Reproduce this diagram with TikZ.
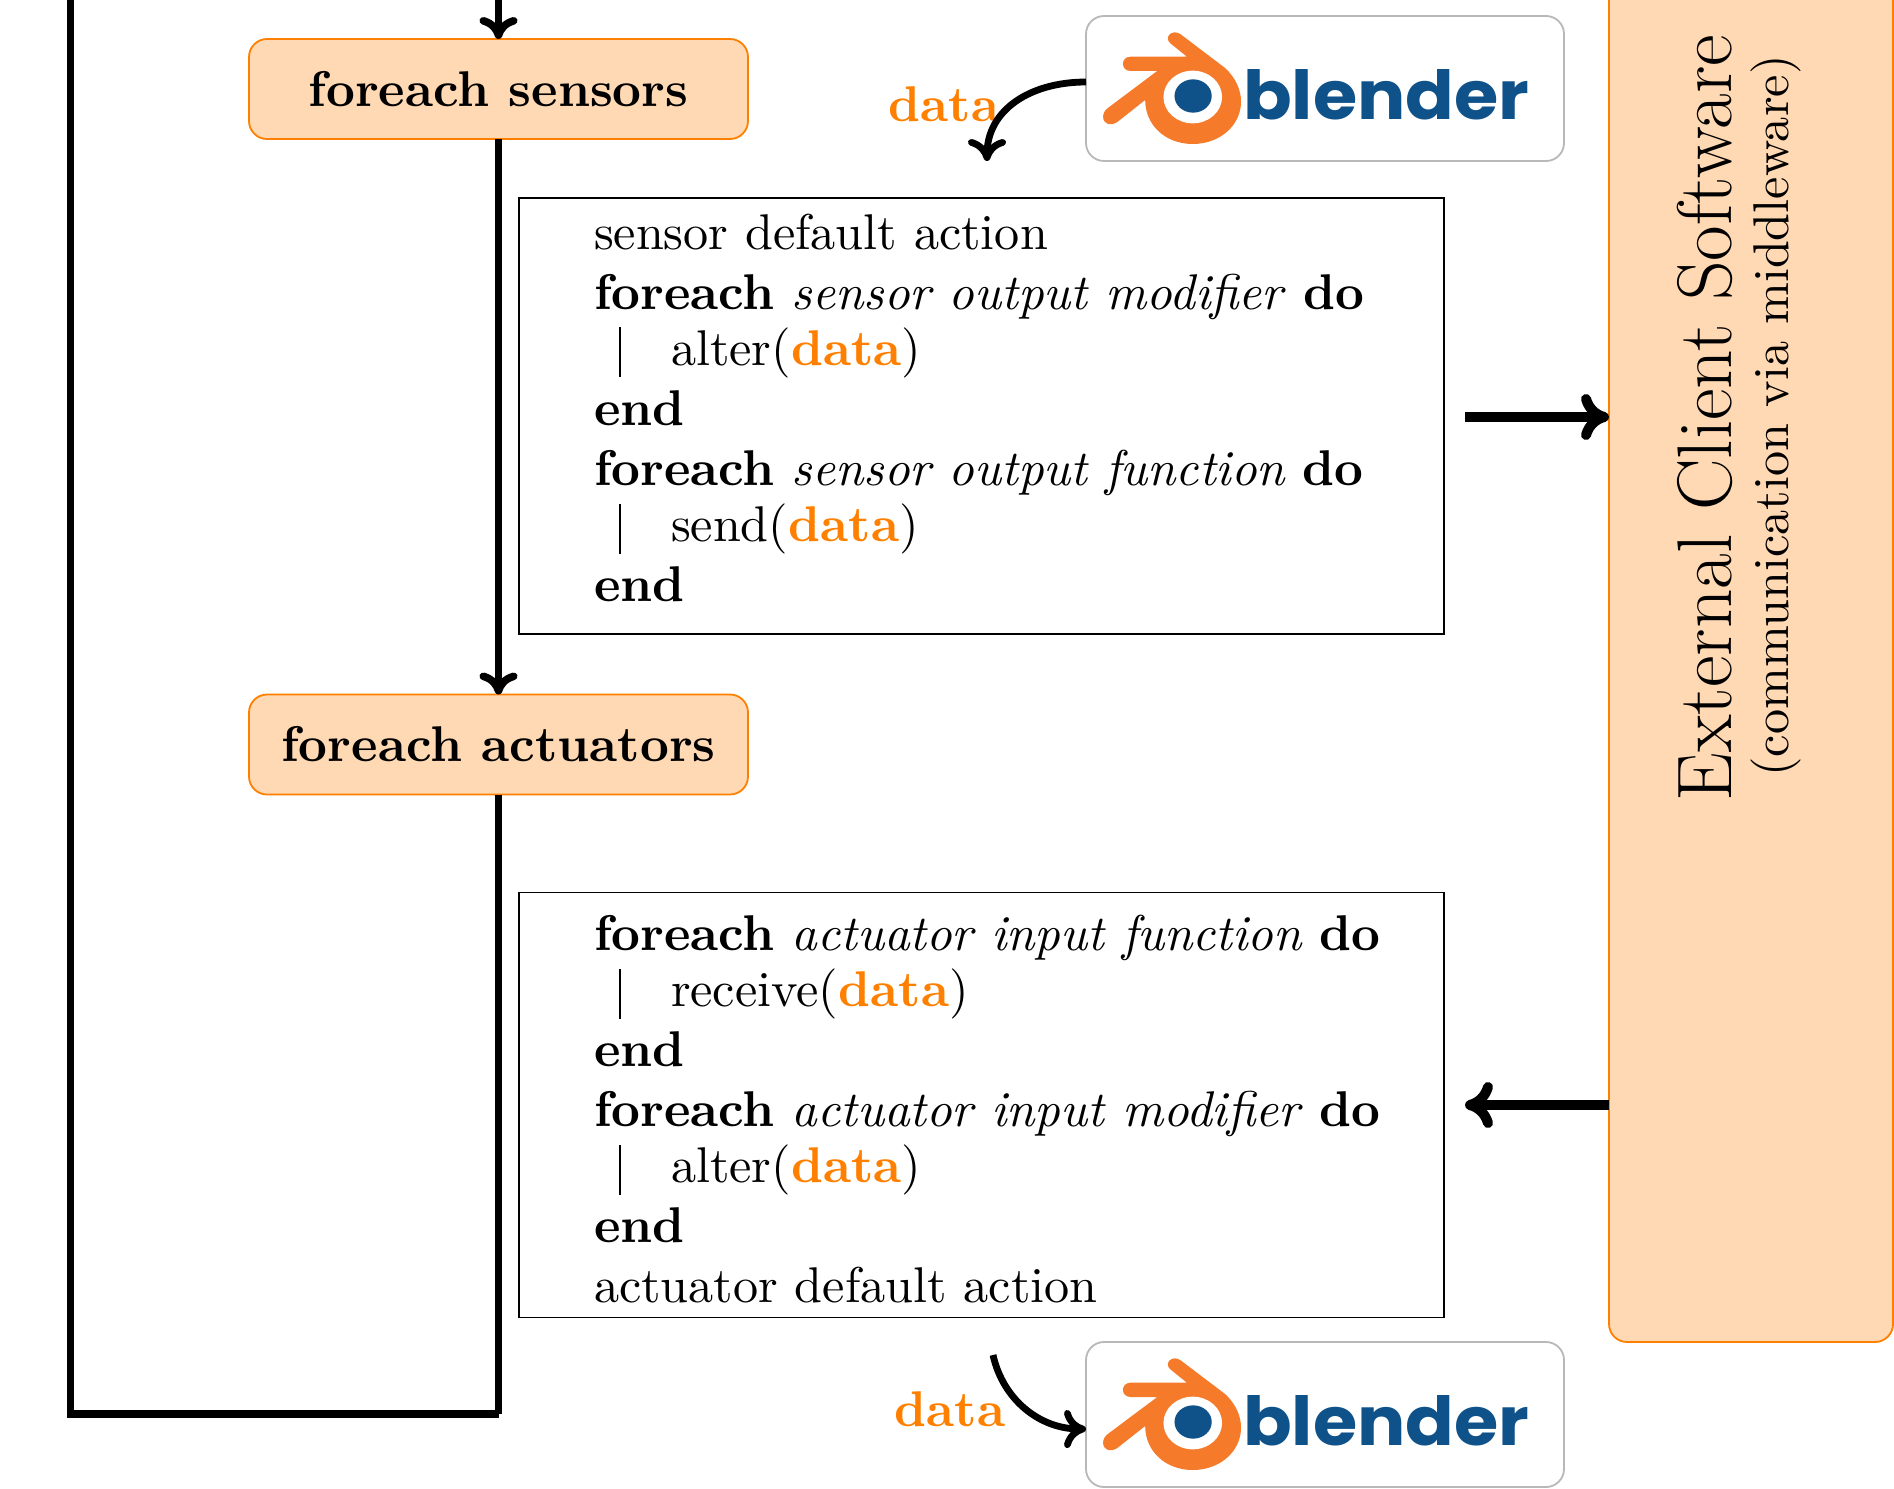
\documentclass[tikz,border=0pt]{standalone}
\usepackage{graphicx}
\usepackage{fontspec}
\usetikzlibrary{arrows.meta}
\newfontfamily\logofont{Poppins}
\definecolor{dataorange}{RGB}{255,128,0}
\definecolor{softorange}{RGB}{255,217,179}
\definecolor{logoorange}{RGB}{245,122,42}
\definecolor{logoblue}{RGB}{15,82,138}
\newcommand\algtxt[1]{\scalebox{2.51}{#1}}
\newcommand\hdata{\textcolor{dataorange}{\textbf{data}}}
\tikzset{
  algline/.style={anchor=base west,inner sep=0pt,outer sep=0pt},
  algbox/.style={draw=black,line width=0.9pt,minimum width=462.5pt,inner sep=0pt,outer sep=0pt},
  loopbox/.style={draw=dataorange,fill=softorange,line width=0.9pt,rounded corners=9pt,minimum width=249.5pt,minimum height=50pt,inner sep=0pt,outer sep=0pt},
  logobox/.style={draw=black!28,line width=0.9pt,rounded corners=9pt,minimum width=239pt,minimum height=72.5pt,inner sep=0pt,outer sep=0pt},
  extbox/.style={draw=dataorange,fill=softorange,line width=0.9pt,rounded corners=9pt,minimum width=142pt,minimum height=701pt,inner sep=0pt,outer sep=0pt},
  flow/.style={line width=3.8pt,-{Computer Modern Rightarrow[length=11pt,width=19pt]}},
  sendflow/.style={line width=5pt,-{Computer Modern Rightarrow[length=14pt,width=23pt]}},
  gives/.style={line width=3.4pt,-{Computer Modern Rightarrow[length=11pt,width=19pt]}},
  loopline/.style={line width=3.8pt},
  barline/.style={line width=0.6pt},
  blenderlogo/.pic={
    \begin{scope}[xscale=0.3448,yscale=0.3333,shift={(-75.4,-48)}]
      \fill[logoorange] (350,103) -- (480,205)
        .. controls (510,235) and (525,270) .. (525,305)
        .. controls (525,375) and (465,432) .. (385,432)
        .. controls (305,432) and (247,375) .. (247,300)
        -- (165,367)
        .. controls (150,378) and (125,375) .. (125,350)
        .. controls (125,340) and (130,330) .. (140,323)
        -- (282,213) -- (205,213)
        .. controls (175,213) and (175,170) .. (205,170)
        -- (368,170) -- (320,130)
        .. controls (300,112) and (325,85) .. (350,103) -- cycle;
      \fill[white] (385,291) ellipse [x radius=85,y radius=79];
      \fill[logoblue] (386,288) ellipse [x radius=54,y radius=50];
      \node[anchor=base west,inner sep=0pt,text=logoblue] (-word) at (530,358)
        {\resizebox{143pt}{25pt}{\logofont\bfseries blender}};
    \end{scope}
  }
}
\begin{document}
\begin{tikzpicture}[x=0.5pt,y=-0.5pt]
\useasboundingbox (0,0) rectangle (1894,1488);
\clip (0,0) rectangle (1894,1488);

% external software
\node[extbox] (ext) at (1751,641) {};
\node[rotate=90,inner sep=0pt] (exttitle) at (1705,418) {\scalebox{2.24}{\LARGE External Client Software}};
\node[rotate=90,inner sep=0pt] (extsub) at (1776,416) {\algtxt{(communication via middleware)}};

% loop boxes
\node[loopbox] (sensors) at (498.5,89) {\algtxt{\bfseries foreach sensors}};
\node[loopbox] (actuators) at (498.5,744.5) {\raisebox{-1pt}{\algtxt{\bfseries foreach actuators}}};

% algorithm boxes
\node[algbox,minimum height=218pt] (sensorbox) at (981.5,416) {};
\node[algbox,minimum height=212.5pt] (actuatorbox) at (981.5,1105) {};

\node[algline] (s1) at (594,249) {\algtxt{sensor default action}};
\node[algline] (s2) at (594,309) {\algtxt{\textbf{foreach} \textit{sensor output modifier} \textbf{do}}};
\node[algline] (s3) at (671,365) {\algtxt{alter(\hdata)}};
\node[algline] (s4) at (594,425) {\algtxt{\textbf{end}}};
\node[algline] (s5) at (594,485) {\algtxt{\textbf{foreach} \textit{sensor output function} \textbf{do}}};
\node[algline] (s6) at (671,541) {\algtxt{send(\hdata)}};
\node[algline] (s7) at (594,601) {\algtxt{\textbf{end}}};
\draw[barline] (620,327) -- (620,377);
\draw[barline] (620,504) -- (620,554);

\node[algline] (a1) at (594,950) {\algtxt{\textbf{foreach} \textit{actuator input function} \textbf{do}}};
\node[algline] (a2) at (671,1006) {\algtxt{receive(\hdata)}};
\node[algline] (a3) at (594,1066) {\algtxt{\textbf{end}}};
\node[algline] (a4) at (594,1126) {\algtxt{\textbf{foreach} \textit{actuator input modifier} \textbf{do}}};
\node[algline] (a5) at (671,1182) {\algtxt{alter(\hdata)}};
\node[algline] (a6) at (594,1242) {\algtxt{\textbf{end}}};
\node[algline] (a7) at (594,1302) {\algtxt{actuator default action}};
\draw[barline] (620,969) -- (620,1019);
\draw[barline] (620,1145) -- (620,1195);

% blender logos
\node[logobox] (blenderA) at (1325,88.5) {};
\node[logobox] (blenderB) at (1325,1414.5) {};
\pic (logoA) at (1086,16) {blenderlogo};
\pic (logoB) at (1086,1342) {blenderlogo};

% labels
\node[inner sep=0pt,text=dataorange] (dataA) at (944,104) {\algtxt{\textbf{data}}};
\node[inner sep=0pt,text=dataorange] (dataB) at (950,1409) {\algtxt{\textbf{data}}};

% free connector ends
\coordinate (topin) at (498.5,-5);
\coordinate (loopin) at (70.5,-5);
\coordinate (loopa) at (70.5,1414);
\coordinate (loopb) at (498.5,1414);
\coordinate (sendfrom) at (1465,417);
\coordinate (sendto) at (1609,417);
\coordinate (recvfrom) at (1609,1105);
\coordinate (recvto) at (1465,1105);
\coordinate (dAs) at (1086,82);
\coordinate (dAe) at (987,161);
\coordinate (dBs) at (993,1355);
\coordinate (dBe) at (1086,1429);

% connectors
\draw[flow] (topin) -- (sensors.north);
\draw[flow] (sensors.south) -- (actuators.north);
\draw[loopline] (actuators.south) -- (loopb);
\draw[loopline,line join=miter] (loopb) -- (loopa) -- (loopin);
\draw[sendflow] (sendfrom) -- (sendto);
\draw[sendflow] (recvfrom) -- (recvto);
\draw[gives] (dAs) .. controls (1030,82) and (987,110) .. (dAe);
\draw[gives] (dBs) .. controls (1003,1400) and (1040,1429) .. (dBe);
\end{tikzpicture}
\end{document}
